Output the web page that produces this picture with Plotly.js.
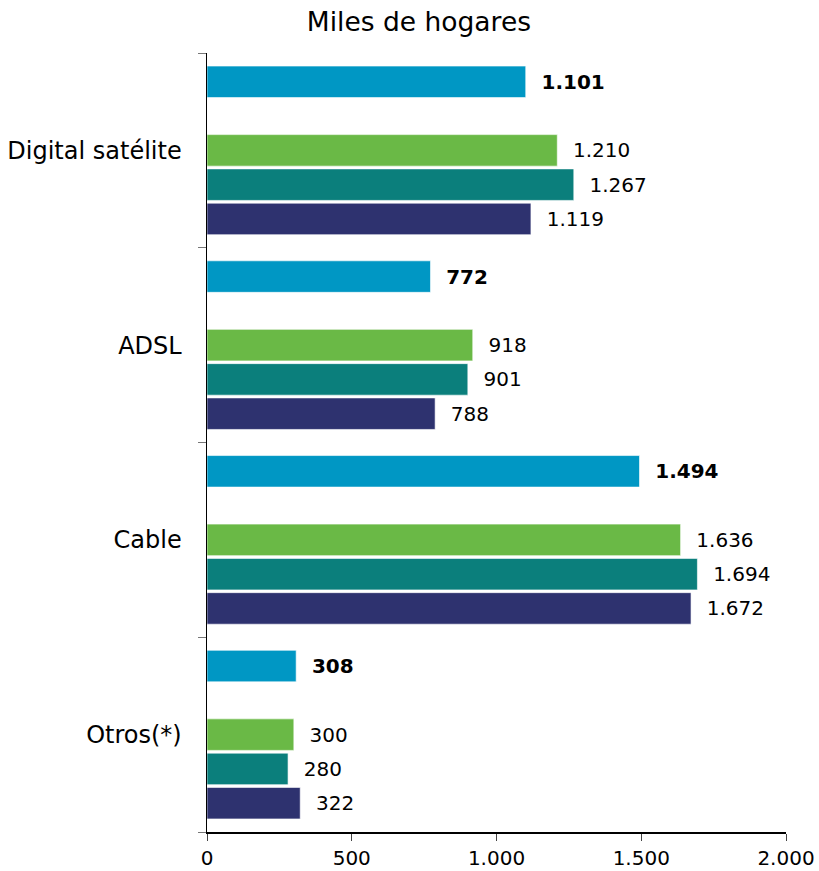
<!DOCTYPE html>
<html>
<head>
<meta charset="utf-8">
<script src="https://cdn.plot.ly/plotly-3.0.1.min.js"></script>
<style>html,body{margin:0;padding:0;background:#fff;}#chart{width:819px;height:871px;}</style>
</head>
<body>
<div id="chart"></div>
<script>
// Categories, top to bottom as shown
const categories = ['Digital satélite', 'ADSL', 'Cable', 'Otros(*)'];
// Series (bottom bar of each group first)
const serieA = [1119, 788, 1672, 322];   // navy
const serieB = [1267, 901, 1694, 280];   // teal
const serieC = [1210, 918, 1636, 300];   // green
const serieVacia = [null, null, null, null]; // empty slot
const serieD = [1101, 772, 1494, 308];   // light blue (bold labels)
const xTicks = [0, 500, 1000, 1500, 2000];

const FAM = 'DejaVu Sans, Verdana, sans-serif';
const labelFont = {family: FAM, size: 20, color: '#000'};
function tr(name, vals, color, bold) {
  return {
    type: 'bar', orientation: 'h', name: name,
    y: categories, x: vals,
    marker: {color: color, line: {color: 'rgba(255,255,255,0.6)', width: 1}},
    texttemplate: bold ? '\u00a0\u00a0<b>%{x:,d}</b>' : '\u00a0\u00a0%{x:,d}',
    textposition: 'outside',
    textfont: labelFont,
    cliponaxis: false,
    hoverinfo: 'x+y'
  };
}
const data = [
  tr('Serie A', serieA, '#2E326F', false),
  tr('Serie B', serieB, '#0B7F7C', false),
  tr('Serie C', serieC, '#6AB946', false),
  tr('', serieVacia, 'rgba(0,0,0,0)', false),
  tr('Serie D', serieD, '#0097C4', true)
];
const layout = {
  width: 819, height: 871,
  margin: {l: 207, r: 33, t: 53, b: 39},
  separators: ',.',
  showlegend: false,
  barmode: 'group',
  bargap: 0.12,
  bargroupgap: 0.08,
  paper_bgcolor: '#fff', plot_bgcolor: '#fff',
  font: {family: FAM, size: 20, color: '#000'},
  title: {text: 'Miles de hogares', x: 0.5115, xanchor: 'center', y: 0.975, yanchor: 'middle',
          font: {family: FAM, size: 26.5, color: '#000'}},
  xaxis: {
    range: [0, 2000], tickvals: xTicks, tickformat: ',d',
    showgrid: false, zeroline: false,
    showline: true, linecolor: '#000', linewidth: 1.5,
    ticks: 'outside', ticklen: 7, tickcolor: '#444', tickwidth: 1,
    tickfont: {family: FAM, size: 20, color: '#000'}
  },
  yaxis: {
    type: 'category', categoryorder: 'array', categoryarray: categories.slice().reverse(),
    range: [-0.5, categories.length - 0.5],
    showgrid: false, zeroline: false,
    showline: true, linecolor: '#000', linewidth: 1.5,
    ticks: 'outside', tickson: 'boundaries', ticklen: 8, tickcolor: '#777', tickwidth: 1,
    ticklabelstandoff: 19,
    tickfont: {family: FAM, size: 24, color: '#000'}
  }
};
Plotly.newPlot('chart', data, layout, {displayModeBar: false, staticPlot: true});
</script>
</body>
</html>
